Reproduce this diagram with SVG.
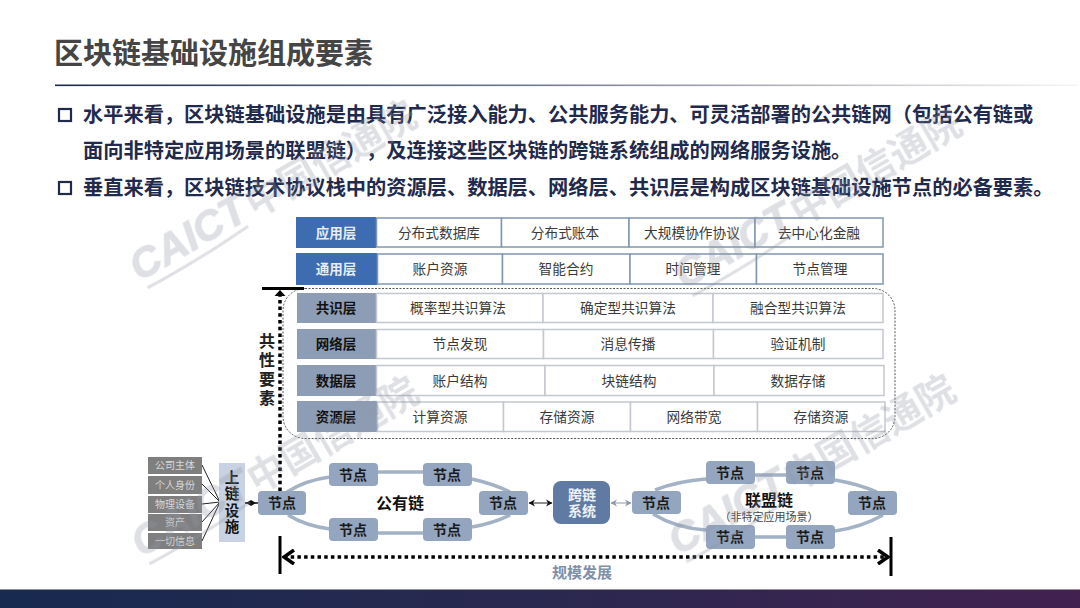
<svg xmlns="http://www.w3.org/2000/svg" width="1080" height="608" viewBox="0 0 1080 608">
<style>
text{font-family:"Noto Sans CJK SC","Liberation Sans",sans-serif;text-anchor:middle;text-spacing-trim:space-all;}
.wm{font-weight:700;fill:#8f96a6;font-size:38px;text-anchor:start;}
.wc{font-family:"Liberation Sans",sans-serif;font-weight:700;font-style:italic;fill:#8f96a6;stroke:#8f96a6;stroke-width:1;font-size:42px;text-anchor:start;}
.sw{fill:none;stroke:#8f96a6;stroke-width:3;}
.wg{opacity:.3;}
.b{font-size:20.23px;font-weight:700;fill:#1f2a4d;text-anchor:start;}
.lb{font-size:13.5px;font-weight:700;}
.cell{fill:#fff;stroke:#7f97ae;stroke-width:1.5;}
.cell2{fill:#fff;stroke:#c3c8d0;stroke-width:1.5;}
.ct{font-size:13.7px;fill:#3a3a3a;}
.n rect{fill:#94a5c0;}
.n text{font-size:14px;font-weight:700;fill:#1a1a1a;}
.arc{fill:none;stroke:#a4b2c6;stroke-width:3.5;}
.sm text{font-size:10px;fill:#d8d8d8;}
.sm rect{fill:#7f7f7f;}
.fan{stroke:#222;stroke-width:1;fill:none;}
.dot{fill:none;stroke:#000;stroke-width:3.5;stroke-dasharray:3.5 3.2;}
.v{writing-mode:vertical-rl;font-weight:700;}
</style>
<defs>
<linearGradient id="hl" x1="0" x2="1" y1="0" y2="0"><stop offset="0" stop-color="#1c2a50"/><stop offset="0.45" stop-color="#6e7590"/><stop offset="0.72" stop-color="#b5b5bd"/><stop offset="1" stop-color="#f5f5f7"/></linearGradient>
<linearGradient id="band" x1="0" x2="1" y1="0" y2="0"><stop offset="0" stop-color="#182a50"/><stop offset="0.5" stop-color="#2a2850"/><stop offset="1" stop-color="#42214f"/></linearGradient>
<marker id="ah" markerWidth="8" markerHeight="8" refX="6" refY="4" orient="auto-start-reverse" markerUnits="userSpaceOnUse"><path d="M0 0.5L6.5 4L0 7.5L2 4Z" fill="#111"/></marker>
<marker id="ag" markerWidth="8" markerHeight="8" refX="6" refY="4" orient="auto-start-reverse" markerUnits="userSpaceOnUse"><path d="M0 0.5L6.5 4L0 7.5L2 4Z" fill="#8a97a8"/></marker>
<marker id="big" markerWidth="14" markerHeight="16" refX="12" refY="8" orient="auto-start-reverse" markerUnits="userSpaceOnUse"><path d="M2 1L12 8L2 15" fill="none" stroke="#000" stroke-width="3.500"/></marker>
</defs>
<rect width="1080" height="608" fill="#fff"/>
<g id="header">
<text x="54" y="63.500" style="text-anchor:start;font-size:29px;font-weight:700;fill:#454545">区块链基础设施组成要素</text>
<rect x="55" y="84.500" width="1023" height="1.600" fill="url(#hl)"/>
<rect x="59" y="109" width="12" height="12" fill="none" stroke="#1f2a4d" stroke-width="2.200"/>
<text class="b" x="83" y="122">水平来看，区块链基础设施是由具有广泛接入能力、公共服务能力、可灵活部署的公共链网（包括公有链或</text>
<text class="b" x="83" y="158">面向非特定应用场景的联盟链），及连接这些区块链的跨链系统组成的网络服务设施。</text>
<rect x="59" y="182" width="12" height="12" fill="none" stroke="#1f2a4d" stroke-width="2.200"/>
<text class="b" x="83" y="195">垂直来看，区块链技术协议栈中的资源层、数据层、网络层、共识层是构成区块链基础设施节点的必备要素。</text>
</g>
<g id="layer-app">
<rect x="296" y="217" width="80" height="31" fill="#3e6cb0"/><text class="lb" x="336" y="237.500" fill="#e8ecf4">应用层</text>
<rect class="cell" x="376.500" y="218" width="125" height="29"/><rect class="cell" x="501.500" y="218" width="127.500" height="29"/><rect class="cell" x="629" y="218" width="126" height="29"/><rect class="cell" x="755" y="218" width="128" height="29"/>
<text class="ct" x="439" y="237.500">分布式数据库</text><text class="ct" x="565" y="237.500">分布式账本</text><text class="ct" x="692" y="237.500">大规模协作协议</text><text class="ct" x="819" y="237.500">去中心化金融</text>
</g>
<g id="layer-common">
<rect x="296" y="253" width="81" height="32" fill="#3e6cb0"/><text class="lb" x="336" y="274" fill="#e8ecf4">通用层</text>
<rect class="cell" x="377.500" y="254" width="125" height="30"/><rect class="cell" x="502.500" y="254" width="127.500" height="30"/><rect class="cell" x="630" y="254" width="126.500" height="30"/><rect class="cell" x="756.500" y="254" width="126.500" height="30"/>
<text class="ct" x="440" y="274">账户资源</text><text class="ct" x="566" y="274">智能合约</text><text class="ct" x="693" y="274">时间管理</text><text class="ct" x="820" y="274">节点管理</text>
</g>
<g id="layer-consensus">
<rect x="297" y="293" width="80" height="30" fill="#8d9db6"/><text class="lb" x="336" y="313" fill="#111">共识层</text>
<rect class="cell2" x="376.500" y="293.500" width="166.500" height="29"/><rect class="cell2" x="543" y="293.500" width="170" height="29"/><rect class="cell2" x="713" y="293.500" width="170" height="29"/>
<text class="ct" x="458" y="313">概率型共识算法</text><text class="ct" x="628" y="313">确定型共识算法</text><text class="ct" x="798" y="313">融合型共识算法</text>
</g>
<g id="layer-network">
<rect x="297" y="329" width="80" height="30" fill="#8d9db6"/><text class="lb" x="336" y="349" fill="#111">网络层</text>
<rect class="cell2" x="376.500" y="329.500" width="167" height="29"/><rect class="cell2" x="543.500" y="329.500" width="170" height="29"/><rect class="cell2" x="713.500" y="329.500" width="169.500" height="29"/>
<text class="ct" x="460" y="349">节点发现</text><text class="ct" x="628" y="349">消息传播</text><text class="ct" x="798" y="349">验证机制</text>
</g>
<g id="layer-data">
<rect x="297" y="365" width="80" height="31" fill="#8d9db6"/><text class="lb" x="336" y="386" fill="#111">数据层</text>
<rect class="cell2" x="376.500" y="365.500" width="168.500" height="30"/><rect class="cell2" x="545" y="365.500" width="169" height="30"/><rect class="cell2" x="714" y="365.500" width="170" height="30"/>
<text class="ct" x="460" y="386">账户结构</text><text class="ct" x="629" y="386">块链结构</text><text class="ct" x="798" y="386">数据存储</text>
</g>
<g id="layer-resource">
<rect x="297" y="401" width="80" height="31" fill="#8d9db6"/><text class="lb" x="336" y="422" fill="#111">资源层</text>
<rect class="cell2" x="377.500" y="402" width="126" height="29.500"/><rect class="cell2" x="503.500" y="402" width="127" height="29.500"/><rect class="cell2" x="630.500" y="402" width="127" height="29.500"/><rect class="cell2" x="757.500" y="402" width="127.500" height="29.500"/>
<text class="ct" x="440" y="422">计算资源</text><text class="ct" x="567" y="422">存储资源</text><text class="ct" x="694" y="422">网络带宽</text><text class="ct" x="821" y="422">存储资源</text>
</g>
<g id="connectors">
<rect x="283" y="288.500" width="612" height="150" rx="22" fill="none" stroke="#555" stroke-width="1" stroke-dasharray="2 1.500"/>
<path class="dot" d="M280 491V296"/>
<path d="M262 288.500H304" stroke="#000" stroke-width="3"/>
<path d="M274.500 296L280 290L285.500 296Z" fill="#000"/>
<path class="fan" d="M202 465L220 502M202 484L220 502M202 504L220 502M202 522L220 502M202 541L220 502"/>
<path d="M245 503H258" stroke="#111" stroke-width="1.500"/>
<path d="M246 503L251 500L256 503L251 506Z" fill="#111"/>
<path class="arc" d="M287 492Q306 480 330 477M378 472H423M472 479Q494 484 510 492M288 515Q306 526 330 529M378 533H423M472 527Q494 523 510 515"/>
<path class="arc" d="M655 490Q678 481 706 479M755 475H786M835 480Q858 484 877 492M653 514Q676 528 706 530M755 537H786M835 531Q862 527 883 515"/>
<path d="M529 503H552" stroke="#222" stroke-width="1" marker-start="url(#ah)" marker-end="url(#ah)"/>
<path d="M611 503H631" stroke="#8a97a8" stroke-width="1" marker-start="url(#ag)" marker-end="url(#ag)"/>
<path class="dot" d="M284 557H888" marker-start="url(#big)" marker-end="url(#big)"/>
<path d="M280 536V574M891 537V576" stroke="#000" stroke-width="3"/>
</g>
<g id="axis-labels">
<text class="v" x="267" y="371" style="font-size:16px;letter-spacing:3px;fill:#222">共性要素</text>
<text x="582" y="578" style="font-size:15px;font-weight:700;fill:#7f8fa8">规模发展</text>
</g>
<g id="asset-1" class="sm"><rect x="148" y="457" width="54" height="17"/><text x="175" y="469">公司主体</text></g>
<g id="asset-2" class="sm"><rect x="148" y="476" width="54" height="18"/><text x="175" y="489">个人身份</text></g>
<g id="asset-3" class="sm"><rect x="148" y="496" width="54" height="17"/><text x="175" y="508">物理设备</text></g>
<g id="asset-4" class="sm"><rect x="148" y="514" width="54" height="17"/><text x="175" y="526">资产</text></g>
<g id="asset-5" class="sm"><rect x="148" y="533" width="54" height="16"/><text x="175" y="545">一切信息</text></g>
<g id="onchain"><rect x="219" y="463" width="26" height="79" fill="#c8d2e2"/><text class="v" x="232" y="503" style="font-size:14.500px;letter-spacing:1.800px;fill:#111">上链设施</text></g>
<g id="n1" class="n"><rect x="258" y="491" width="48" height="24" rx="4"/><text x="282" y="508">节点</text></g>
<g id="n2" class="n"><rect x="329" y="463" width="49" height="23" rx="4"/><text x="353" y="480">节点</text></g>
<g id="n3" class="n"><rect x="423" y="463" width="49" height="23" rx="4"/><text x="447" y="480">节点</text></g>
<g id="n4" class="n"><rect x="479" y="491" width="49" height="24" rx="4"/><text x="503" y="508">节点</text></g>
<g id="n5" class="n"><rect x="329" y="518" width="49" height="23" rx="4"/><text x="353" y="535">节点</text></g>
<g id="n6" class="n"><rect x="423" y="518" width="49" height="23" rx="4"/><text x="447" y="535">节点</text></g>
<g id="public-chain"><text x="400" y="509" style="font-size:16px;font-weight:700;fill:#111">公有链</text></g>
<g id="cross"><rect x="553" y="481" width="57" height="43" rx="8" fill="#5f7ba3"/><text style="font-size:14px;font-weight:700;fill:#eef1f6"><tspan x="582" y="500">跨链</tspan><tspan x="582" dy="16">系统</tspan></text></g>
<g id="n7" class="n"><rect x="632" y="491" width="49" height="23" rx="4"/><text x="656" y="508">节点</text></g>
<g id="n8" class="n"><rect x="706" y="461" width="49" height="23" rx="4"/><text x="730" y="478">节点</text></g>
<g id="n9" class="n"><rect x="786" y="461" width="49" height="23" rx="4"/><text x="810" y="478">节点</text></g>
<g id="n10" class="n"><rect x="848" y="491" width="49" height="24" rx="4"/><text x="872" y="508">节点</text></g>
<g id="n11" class="n"><rect x="706" y="525" width="49" height="24" rx="4"/><text x="730" y="542">节点</text></g>
<g id="n12" class="n"><rect x="786" y="525" width="49" height="24" rx="4"/><text x="810" y="542">节点</text></g>
<g id="alliance-chain"><text style="fill:#111"><tspan x="769" y="506" style="font-size:16px;font-weight:700">联盟链</tspan><tspan x="769" dy="14.500" style="font-size:11px;fill:#444">（非特定应用场景）</tspan></text></g>
<g id="watermarks" class="wg">
<g transform="translate(139.500 282) rotate(-30)"><text class="wc" x="0" y="0">CAICT</text><text class="wm" x="132" y="2">中国信通院</text><path class="sw" d="M4 9Q60 11 122 6"/></g>
<g transform="translate(684.500 290) rotate(-30)"><text class="wc" x="0" y="0">CAICT</text><text class="wm" x="132" y="2">中国信通院</text><path class="sw" d="M4 9Q60 11 122 6"/></g>
<g transform="translate(141.500 558) rotate(-30)"><text class="wc" x="0" y="0">CAICT</text><text class="wm" x="132" y="2">中国信通院</text><path class="sw" d="M4 9Q60 11 122 6"/></g>
<g transform="translate(678.500 556) rotate(-30)"><text class="wc" x="0" y="0">CAICT</text><text class="wm" x="132" y="2">中国信通院</text><path class="sw" d="M4 9Q60 11 122 6"/></g>
</g>
<rect id="footer" x="0" y="589.500" width="1080" height="18.500" fill="url(#band)"/>
</svg>
